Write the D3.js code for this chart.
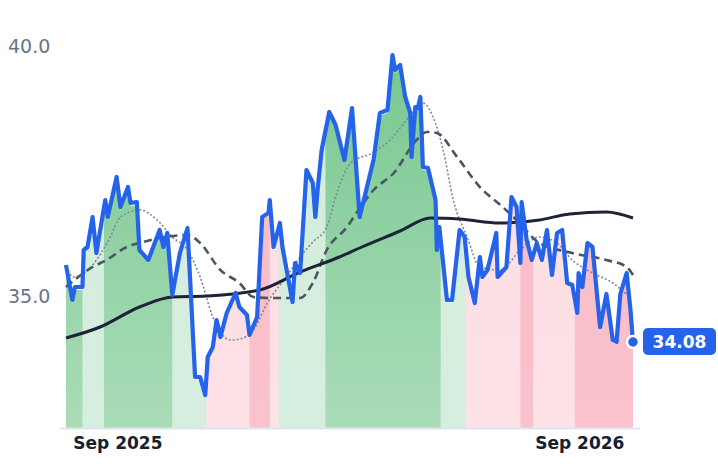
<!DOCTYPE html>
<html><head><meta charset="utf-8">
<script src="https://cdn.jsdelivr.net/npm/d3@7"></script>
<style>body{margin:0;background:#fff}svg{font-family:"DejaVu Sans",sans-serif}</style>
</head><body><svg id="chart" width="718" height="464"></svg>
<script>
// days after the start date, and price
var startDate = new Date(2025, 6, 22);
var priceDays = [0,5,7,13,14,17,21,24,31,33,40,43,49,51,56,58,65,74,77,80,84,90,96,102,106,110,112,116,119,122,127,134,137,143,145,151,155,160,161,164,169,171,179,181,185,190,195,197,199,202,208,213,220,226,232,243,248,254,258,260,264,268,272,273,276,278,280,282,286,292,293,295,301,305,311,315,318,323,327,329,333,337,340,341,348,352,356,359,360,364,368,372,376,380,384,388,392,396,400,404,405,408,412,416,422,427,432,435,438,443,446,448];
var priceVals = [35.62,34.92,35.18,35.18,35.92,35.98,36.58,35.86,36.92,36.58,37.38,36.78,37.18,36.86,36.88,35.92,35.72,36.32,35.98,36.26,35.02,35.86,36.36,33.38,33.38,33.02,33.78,33.98,34.52,34.18,34.66,35.06,34.78,34.62,34.22,34.58,36.58,36.66,36.92,35.98,36.46,35.98,34.88,35.66,35.46,37.52,37.26,36.58,37.18,37.92,38.68,38.42,37.72,38.76,36.58,37.72,38.66,38.72,39.82,39.52,39.62,38.98,38.66,37.78,38.78,38.76,38.98,37.58,37.56,36.92,35.92,36.38,34.92,34.92,36.32,36.18,35.38,34.86,35.78,35.38,35.52,35.94,36.26,35.38,35.58,36.98,36.78,35.66,36.88,36.12,35.72,36.06,35.72,36.32,35.42,36.26,36.32,35.26,35.22,34.66,35.46,35.18,36.06,35.98,34.38,35.04,34.12,34.08,35.04,35.46,34.72,34.08];

var shortDays = [0,6,21,35,43,58,72,84,96,106,116,130,137,148,159,174,185,195,206,214,225,242,256,269,282,290,298,306,317,327,343,359,374,388,400,416,432,445];
var shortVals = [35.58,35.38,35.62,36.18,36.58,36.72,36.52,36.18,35.92,35.38,34.58,34.12,34.14,34.32,34.86,35.38,35.78,36.08,36.38,37.06,37.66,37.86,38.12,38.52,38.86,38.58,37.92,36.92,36.18,35.58,35.52,35.92,36.18,36.06,35.72,35.46,35.26,34.98];

var midDays = [0,21,32,48,58,74,96,106,122,137,148,163,185,195,206,222,230,243,259,277,285,293,309,327,345,356,374,400,427,443,448];
var midVals = [35.18,35.58,35.72,35.98,36.06,36.16,36.22,36.06,35.52,35.26,34.98,34.96,34.96,35.26,35.92,36.38,36.68,37.12,37.46,38.12,38.28,38.26,37.78,37.18,36.78,36.52,36.06,35.86,35.72,35.58,35.42];

var longDays = [0,27,58,84,111,153,185,216,232,264,288,311,343,374,398,427,448];
var longVals = [34.16,34.38,34.78,34.98,35.0,35.12,35.48,35.78,35.96,36.3,36.56,36.54,36.46,36.52,36.64,36.68,36.56];

// regime bands: start day, end day, kind
var bandStart = [0,13,30,84,111,145,161,168,205,296,316,359,369,402];
var bandEnd   = [13,30,84,111,145,161,168,205,296,316,359,369,402,448];
var bandKind  = ["dg","lg","dg","lg","lp","dp","lp","lg","dg","lg","lp","dp","lp","dp"];

var yTicks = [35, 40];
var xTicks = [new Date(2025, 8, 1), new Date(2026, 8, 1)];

function toDate(d){ return d3.timeDay.offset(startDate, d); }
function pts(days, vals){ return days.map(function(d, i){ return {date: toDate(d), v: vals[i]}; }); }

var svg = d3.select("#chart");
var x = d3.scaleTime().domain([toDate(0), toDate(448)]).range([66, 633]);
var y = d3.scaleLinear().domain([32.36, 40]).range([428, 46]);

var price = pts(priceDays, priceVals);
var defs = svg.append("defs");
var colors = {dg:["#79c891","#aadcb8"], lg:["#d2ecdb","#d6eedf"], lp:["#fddbe1","#fde2e7"], dp:["#f9b9c5","#f9c2cc"]};
Object.keys(colors).forEach(function(k){
  var g = defs.append("linearGradient").attr("id", "g" + k).attr("x1", 0).attr("x2", 0).attr("y1", 0).attr("y2", 1);
  g.append("stop").attr("offset", "0%").attr("stop-color", colors[k][0]);
  g.append("stop").attr("offset", "100%").attr("stop-color", colors[k][1]);
});

var area = d3.area().x(function(d){ return x(d.date); }).y0(428).y1(function(d){ return y(d.v) + 3; });
bandKind.forEach(function(k, i){
  var x0 = x(toDate(bandStart[i])), x1 = x(toDate(bandEnd[i]));
  defs.append("clipPath").attr("id", "c" + i).append("rect")
    .attr("x", x0).attr("y", 0).attr("width", x1 - x0 + 0.5).attr("height", 464);
  svg.append("path").datum(price).attr("d", area)
    .attr("fill", "url(#g" + k + ")").attr("clip-path", "url(#c" + i + ")");
});

// baseline
svg.append("line").attr("x1", 60).attr("x2", 640).attr("y1", 428.5).attr("y2", 428.5)
  .attr("stroke", "#dfe5ec").attr("stroke-width", 2);

var line = d3.line().x(function(d){ return x(d.date); }).y(function(d){ return y(d.v); });
var smooth = d3.line().curve(d3.curveMonotoneX).x(function(d){ return x(d.date); }).y(function(d){ return y(d.v); });

svg.append("path").datum(pts(shortDays, shortVals)).attr("d", smooth)
  .attr("fill", "none").attr("stroke", "#7d8797").attr("stroke-width", 1.6).attr("stroke-dasharray", "2,2");
svg.append("path").datum(pts(midDays, midVals)).attr("d", smooth)
  .attr("fill", "none").attr("stroke", "#4a5566").attr("stroke-width", 2.6).attr("stroke-dasharray", "8,5");
svg.append("path").datum(pts(longDays, longVals)).attr("d", smooth)
  .attr("fill", "none").attr("stroke", "#1c2436").attr("stroke-width", 3);
svg.append("path").datum(price).attr("d", line)
  .attr("fill", "none").attr("stroke", "#2563eb").attr("stroke-width", 4.2).attr("stroke-linejoin", "round");

// y labels
svg.selectAll(".yt").data(yTicks).enter().append("text")
  .attr("x", 8).attr("y", function(d){ return y(d) + 7; })
  .attr("fill", "#66758c").attr("font-size", 19).text(function(d){ return d.toFixed(1); });

// x labels
svg.selectAll(".xt").data(xTicks).enter().append("text")
  .attr("x", function(d){ return x(d); }).attr("y", 449).attr("text-anchor", "middle")
  .attr("fill", "#172033").attr("font-size", 17).attr("font-weight", "bold")
  .text(d3.timeFormat("%b %Y"));

// last value marker
var last = price[price.length - 1];
svg.append("circle").attr("cx", x(last.date)).attr("cy", y(last.v)).attr("r", 6)
  .attr("fill", "#2563eb").attr("stroke", "#fff").attr("stroke-width", 2.5);
svg.append("rect").attr("x", 643).attr("y", y(last.v) - 14).attr("width", 73).attr("height", 27).attr("rx", 5)
  .attr("fill", "#2563eb");
svg.append("text").attr("x", 679.5).attr("y", y(last.v) + 6).attr("text-anchor", "middle")
  .attr("fill", "#fff").attr("font-size", 17).attr("font-weight", "bold").text(last.v.toFixed(2));
</script></body></html>
